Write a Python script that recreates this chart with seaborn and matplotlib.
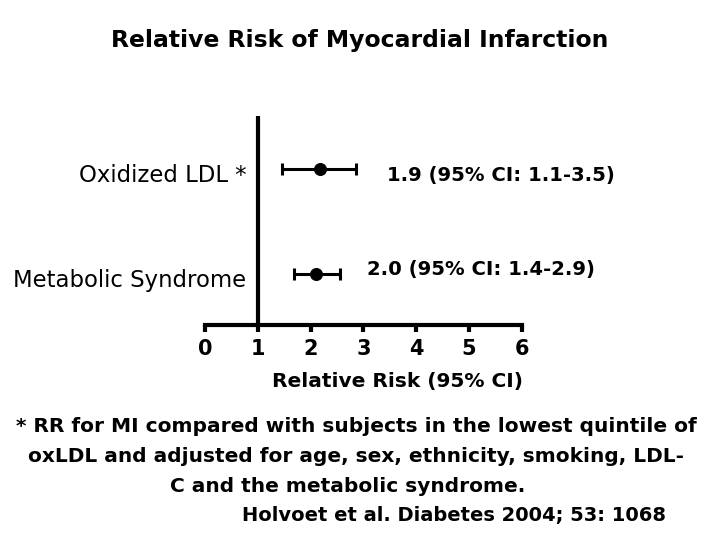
import matplotlib
matplotlib.use("Agg")
import matplotlib.pyplot as plt
import seaborn as sns
import pandas as pd

# Data
categories = ["Oxidized LDL *", "Metabolic Syndrome"]
rr_point = [2.18, 2.10]
ci_low = [1.46, 1.68]
ci_high = [2.86, 2.56]
annotations = ["1.9 (95% CI: 1.1-3.5)", "2.0 (95% CI: 1.4-2.9)"]
row_pos = [1, 0]
xticks = [0, 1, 2, 3, 4, 5, 6]

title = "Relative Risk of Myocardial Infarction"
xlabel = "Relative Risk (95% CI)"
footnote = ["* RR for MI compared with subjects in the lowest quintile of",
            "oxLDL and adjusted for age, sex, ethnicity, smoking, LDL-",
            "C and the metabolic syndrome."]
citation = "Holvoet et al. Diabetes 2004; 53: 1068"

sns.set_theme(style="white")
plt.rcParams["font.family"] = ["DejaVu Sans"]
plt.rcParams["text.color"] = "black"
plt.rcParams["xtick.color"] = "black"
plt.rcParams["xtick.labelcolor"] = "black"

df = pd.DataFrame({"cat": categories, "rr": rr_point, "lo": ci_low,
                   "hi": ci_high, "y": row_pos})

fig = plt.figure(figsize=(7.2, 5.4), dpi=100)
ax = fig.add_axes([205 / 720, 1 - 325 / 540, 316.7 / 720, 209 / 540])

ax.errorbar(df["rr"], df["y"],
            xerr=[df["rr"] - df["lo"], df["hi"] - df["rr"]],
            fmt="none", ecolor="black", elinewidth=2.2, capsize=4.5,
            capthick=2.2, zorder=2)
sns.scatterplot(data=df, x="rr", y="y", ax=ax, color="black", s=75,
                edgecolor="black", zorder=3, legend=False)

ax.axvline(1, color="black", lw=3, zorder=1)

ax.set_xlim(0, 6)
ax.set_ylim(-0.486, 1.505)
ax.set_xticks(xticks)
ax.set_xticklabels([str(t) for t in xticks], fontsize=15, fontweight="bold",
                   color="black")
ax.set_yticks([])
ax.set_xlabel("")
ax.set_ylabel("")
for s in ["left", "right", "top"]:
    ax.spines[s].set_visible(False)
ax.spines["bottom"].set_linewidth(3)
ax.spines["bottom"].set_color("black")
ax.tick_params(axis="x", direction="out", length=5, width=3, color="black",
               pad=5, bottom=True)

for cat, y in zip(categories, row_pos):
    ax.text(0.78, y - 0.065, cat, ha="right", va="center", fontsize=16.4,
            color="black")

ann_x = [3.45, 3.07]
ann_dy = [-0.06, 0.04]
for a, y, x, dy in zip(annotations, row_pos, ann_x, ann_dy):
    ax.text(x, y + dy, a, ha="left", va="center", fontsize=14.1,
            fontweight="bold", color="black")

fig.text(360 / 720, 1 - 40 / 540, title, ha="center", va="center",
         fontsize=16.9, fontweight="bold")
fig.text(397 / 720, 1 - 382 / 540, xlabel, ha="center", va="center",
         fontsize=14.5, fontweight="bold")
foot_y = [427, 457, 486]
foot_x = [356, 356, 348]
for line, fy, fx in zip(footnote, foot_y, foot_x):
    fig.text(fx / 720, 1 - fy / 540, line, ha="center",
             va="center", fontsize=14.5, fontweight="bold")
fig.text(242 / 720, 1 - 516 / 540, citation, ha="left", va="center",
         fontsize=14, fontweight="bold")

fig.savefig("out.png", dpi=100)
